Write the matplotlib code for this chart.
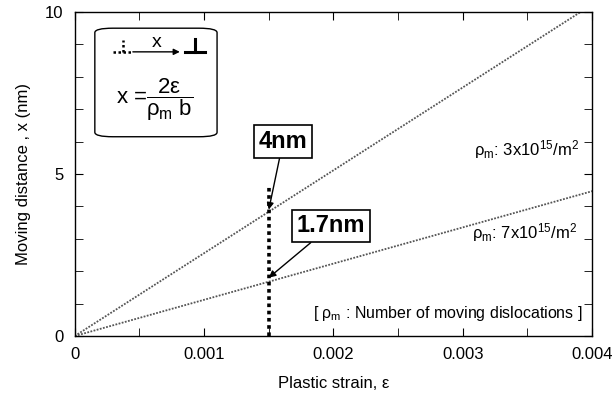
import matplotlib.pyplot as plt
from matplotlib.patches import FancyBboxPatch
from matplotlib.ticker import MultipleLocator
import numpy as np

plt.rcParams['font.family'] = ['Liberation Sans', 'DejaVu Sans']
plt.rcParams['mathtext.fontset'] = 'custom'
plt.rcParams['mathtext.rm'] = 'Liberation Sans'
plt.rcParams['mathtext.it'] = 'Liberation Sans'

# data
strain = [0.0, 0.004]
x_rho3 = [0.0, 10.23]     # rho_m = 3e15 /m2
x_rho7 = [0.0, 4.47]      # rho_m = 7e15 /m2
eps_mark = 0.0015
mark_top = 4.6
val_rho3 = 3.9
val_rho7 = 1.7
xticks = [0, 0.001, 0.002, 0.003, 0.004]
xticklabels = ['0', '0.001', '0.002', '0.003', '0.004']
yticks = [0, 5, 10]

fig = plt.figure(figsize=(6.13, 4.0), dpi=100)
ax = fig.add_axes([0.122, 0.16, 0.844, 0.81])

lc = '#555555'
ax.plot(strain, x_rho3, color=lc, lw=1.3, ls=(0, (1, 0.8)))
ax.plot(strain, x_rho7, color=lc, lw=1.3, ls=(0, (1, 0.8)))
ax.plot([eps_mark, eps_mark], [0, mark_top], color='black', lw=2.6, ls=(0, (1, 1)))

ax.set_xlim(0, 0.004)
ax.set_ylim(0, 10)
ax.set_xticks(xticks)
ax.set_xticklabels(xticklabels)
ax.set_yticks(yticks)
ax.xaxis.set_minor_locator(MultipleLocator(0.0005))
ax.yaxis.set_minor_locator(MultipleLocator(1))
ax.tick_params(which='both', direction='in', top=True, right=True, labelsize=12)
ax.tick_params(which='major', length=6, pad=8)
ax.tick_params(which='minor', length=6)
for s in ax.spines.values():
    s.set_linewidth(1.0)

ax.set_xlabel('Plastic strain, ε', fontsize=12, labelpad=10)
ax.set_ylabel('Moving distance , x (nm)', fontsize=12, labelpad=10)

# value callouts
ax.annotate('4nm', xy=(eps_mark, val_rho3), xytext=(0.00161, 6.0),
            fontsize=17, fontweight='bold', ha='center', va='center',
            bbox=dict(boxstyle='square,pad=0.2', fc='white', ec='black', lw=1.2),
            arrowprops=dict(arrowstyle='-|>', color='black', lw=1.0,
                            mutation_scale=10, shrinkA=0, shrinkB=0))
ax.annotate('1.7nm', xy=(eps_mark, val_rho7 + 0.1), xytext=(0.00198, 3.4),
            fontsize=17, fontweight='bold', ha='center', va='center',
            bbox=dict(boxstyle='square,pad=0.2', fc='white', ec='black', lw=1.2),
            arrowprops=dict(arrowstyle='-|>', color='black', lw=1.0,
                            mutation_scale=10, shrinkA=0, shrinkB=0))

ax.text(0.00309, 5.75, r'$\rho_{\mathrm{m}}$: 3x10$^{15}$/m$^2$', fontsize=12, va='center')
ax.text(0.00307, 3.2, r'$\rho_{\mathrm{m}}$: 7x10$^{15}$/m$^2$', fontsize=12, va='center')
ax.text(0.00393, 0.7, r'[ $\rho_{\mathrm{m}}$ : Number of moving dislocations ]',
        fontsize=11.5, ha='right', va='center')

# inset with schematic and formula
box = FancyBboxPatch((0.000155, 6.15), 0.000945, 3.35,
                     boxstyle='round,pad=0,rounding_size=0.00014',
                     mutation_aspect=10 / 0.004 * 0.39, fc='white', ec='black', lw=1.0)
ax.add_patch(box)
ax.plot([0.000294, 0.000449], [8.77, 8.77], color='black', lw=1.8, ls=(0, (1, 1)))
ax.plot([0.000371, 0.000371], [8.77, 9.14], color='black', lw=1.8, ls=(0, (1, 1)))
ax.annotate('', xy=(0.000812, 8.77), xytext=(0.000449, 8.77),
            arrowprops=dict(arrowstyle='-|>', color='black', lw=1.0, mutation_scale=9,
                            shrinkA=0, shrinkB=0))
ax.text(0.000634, 9.07, 'x', fontsize=14, ha='center', va='center')
ax.plot([0.000851, 0.001006], [8.77, 8.77], color='black', lw=2.2)
ax.plot([0.000928, 0.000928], [8.77, 9.17], color='black', lw=2.2)
ax.text(0.000619, 7.3, r'x =$\dfrac{2\varepsilon}{\rho_{\mathrm{m}}\ \mathrm{b}}$',
        fontsize=16, ha='center', va='center')

fig.savefig('out.png', dpi=100)
